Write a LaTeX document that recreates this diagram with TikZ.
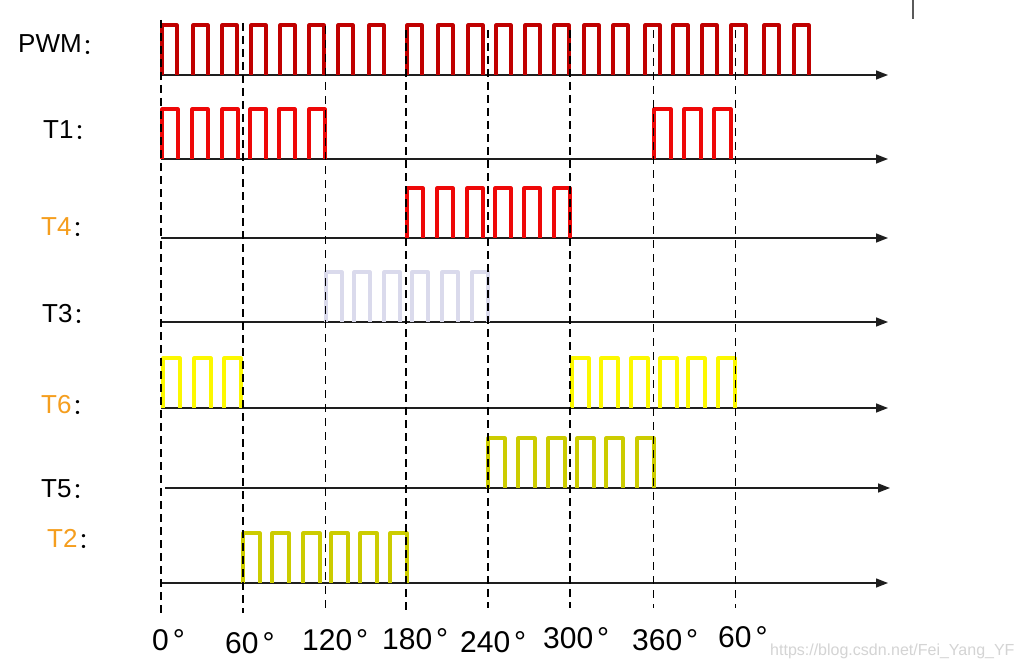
\documentclass[tikz,border=0pt]{standalone}
\usepackage{fontspec}
\setmainfont{Liberation Sans}
\newfontfamily\cjk{Noto Sans CJK SC}
\usetikzlibrary{arrows.meta}
\definecolor{pwmred}{RGB}{192,0,0}
\definecolor{tred}{RGB}{238,8,8}
\definecolor{tlav}{RGB}{218,218,236}
\definecolor{tyel}{RGB}{252,248,0}
\definecolor{tolive}{RGB}{204,204,0}
\definecolor{torange}{RGB}{245,158,30}
\definecolor{wmark}{RGB}{212,212,212}
\newcommand\pulsetrain[5]{% style, base y, start x, offsets, width
  \foreach \o in {#4} {\draw[#1] ({#3+\o},#2) -- ({#3+\o},{#2-50}) -- ({#3+\o+#5},{#2-50}) -- ({#3+\o+#5},#2);}%
}
\tikzset{
  pulse/.style={line width=3.1pt, line join=round},
  axisline/.style={line width=1.4pt, draw={rgb,255:red,30;green,30;blue,30}, -{Triangle[length=12pt,width=9pt]}},
  thickdash/.style={line width=2.2pt, dash pattern=on 8pt off 5pt},
  thindash/.style={line width=1pt, dash pattern=on 8pt off 6pt},
  rowlabel/.style={anchor=base west, inner sep=0pt, font=\fontsize{26}{26}\selectfont},
  deglabel/.style={anchor=base west, inner sep=0pt, font=\fontsize{30}{30}\selectfont},
}
\newcommand\colonmark{\hspace{1pt}\raisebox{-1.5pt}{\cjk\fontsize{22}{22}\selectfont ：}}
\newcommand\degmark{\hspace{4pt}°}
\begin{document}
\begin{tikzpicture}[x=1pt,y=-1pt]
\useasboundingbox (0,0) rectangle (1024,666);
\fill[white] (0,0) rectangle (1024,666);
% axes
\coordinate (aPs) at (161,75);  \coordinate (aPe) at (888,75);
\coordinate (a1s) at (161,159); \coordinate (a1e) at (888,159);
\coordinate (a4s) at (161,238); \coordinate (a4e) at (888,238);
\coordinate (a3s) at (161,322); \coordinate (a3e) at (888,322);
\coordinate (a6s) at (161,408); \coordinate (a6e) at (888,408);
\coordinate (a5s) at (165,488); \coordinate (a5e) at (890,488);
\coordinate (a2s) at (161,583); \coordinate (a2e) at (888,583);
\foreach \r in {P,1,4,3,6,5,2} {\draw[axisline] (a\r s) -- (a\r e);}
% pulses
\pulsetrain{pulse,draw=pwmred}{75}{0}{162,193,222,251,280,309,338,369,407,438,468,496,525,554,584,613,645,673,702,731,764,794}{15}
\pulsetrain{pulse,draw=tred}{159}{161}{1,31,61,89,118,148}{16}
\pulsetrain{pulse,draw=tred}{159}{653}{1,31,61}{17}
\pulsetrain{pulse,draw=tred}{238}{406}{1,31,61,89,118,148}{16}
\pulsetrain{pulse,draw=tlav}{322}{325}{1,29,59,87,117,147}{16}
\pulsetrain{pulse,draw=tyel}{408}{161}{2,33,63}{17}
\pulsetrain{pulse,draw=tyel}{408}{570}{2,31,61,90,118,148}{17}
\pulsetrain{pulse,draw=tolive}{488}{488}{0,30,60,89,118,149}{17}
\pulsetrain{pulse,draw=tolive}{583}{243}{0,29,60,88,117,147}{17}
% dashed phase lines
\draw[thickdash] (161,20) -- (161,616);
\draw[thickdash] (243,23) -- (243,613);
\draw[thindash]  (325,26) -- (325,611);
\draw[thickdash] (406,30) -- (406,610);
\draw[thickdash] (488,30) -- (488,608);
\draw[thickdash] (570,30) -- (570,608);
\draw[thindash]  (653,30) -- (653,608);
\draw[thindash]  (735,30) -- (735,608);
% stray mark top right
\draw[line width=1.2pt, draw={rgb,255:red,90;green,90;blue,90}] (913,0) -- (913,19);
% row labels
\node[rowlabel] (lP) at (18,53) {PWM\colonmark};
\node[rowlabel] (l1) at (43,138) {T1\colonmark};
\node[rowlabel] (l4) at (41,235) {\textcolor{torange}{T4}\colonmark};
\node[rowlabel] (l3) at (42,322) {T3\colonmark};
\node[rowlabel] (l6) at (41,413) {\textcolor{torange}{T6}\colonmark};
\node[rowlabel] (l5) at (41,497) {T5\colonmark};
\node[rowlabel] (l2) at (47,547) {\textcolor{torange}{T2}\colonmark};
% degree labels
\node[deglabel] (d0)   at (152,650) {0\degmark};
\node[deglabel] (d60)  at (225,653) {60\degmark};
\node[deglabel] (d120) at (302,650) {120\degmark};
\node[deglabel] (d180) at (382,649) {180\degmark};
\node[deglabel] (d240) at (460,652) {240\degmark};
\node[deglabel] (d300) at (543,648) {300\degmark};
\node[deglabel] (d360) at (632,650) {360\degmark};
\node[deglabel] (d60b) at (718,647) {60\degmark};
% watermark
\node[anchor=base west, inner sep=0pt, text=wmark, font=\fontsize{16}{16}\selectfont] (wm) at (770,655) {https://blog.csdn.net/Fei\_Yang\_YF};
\end{tikzpicture}
\end{document}
